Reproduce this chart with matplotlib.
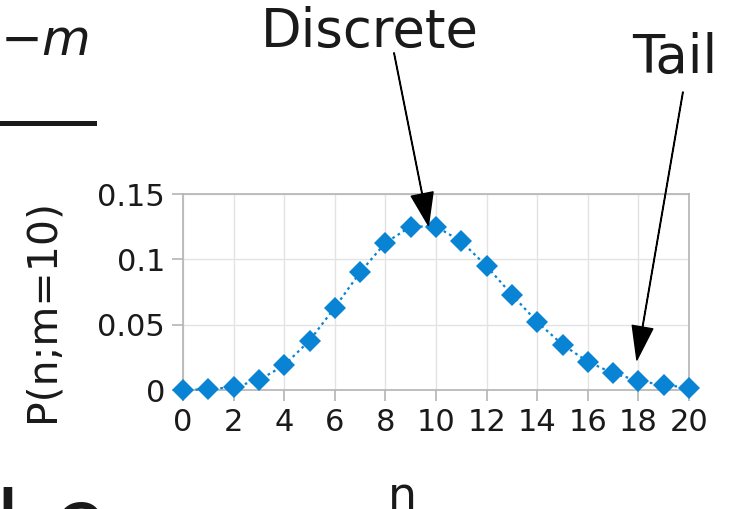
import matplotlib
matplotlib.use('Agg')
import matplotlib.pyplot as plt
from matplotlib.lines import Line2D

# Poisson probabilities, m = 10
n_vals = list(range(0, 21))
p_vals = [0.00005, 0.0005, 0.0023, 0.0076, 0.0189, 0.0378, 0.0631, 0.0901,
          0.1126, 0.1251, 0.1251, 0.1137, 0.0948, 0.0729, 0.0521, 0.0347,
          0.0217, 0.0128, 0.0071, 0.0037, 0.0019]
x_ticks = list(range(0, 21, 2))
y_ticks = [0, 0.05, 0.1, 0.15]
y_tick_labels = ['0', '0.05', '0.1', '0.15']

blue = '#0984d4'
ink = '#1a1a1a'
gray = '#b4b4b4'

fig = plt.figure(figsize=(7.31, 5.09), dpi=100)
W, H = 731, 509
ax = fig.add_axes([183 / W, 1 - 390 / H, 506 / W, 196 / H])

ax.plot(n_vals, p_vals, linestyle=(0, (1.2, 1.6)), linewidth=1.6, color=blue,
        marker='D', markersize=11, markeredgewidth=0, clip_on=False, zorder=3)

ax.set_xlim(0, 20)
ax.set_ylim(0, 0.15)
ax.set_xticks(x_ticks)
ax.set_yticks(y_ticks)
ax.set_yticklabels(y_tick_labels)
ax.grid(True, color='#e3e3e3', linewidth=1.0)
ax.set_axisbelow(True)
for s in ax.spines.values():
    s.set_color(gray)
    s.set_linewidth(1.2)
ax.tick_params(axis='both', direction='out', color=gray, width=1.2,
               length=8, labelsize=22, labelcolor=ink, pad=5)

# annotations
ax.annotate('', xy=(9.7, 0.126), xytext=(8.34, 0.258),
            arrowprops=dict(facecolor='black', edgecolor='black', width=0.4,
                            headwidth=16, headlength=23, shrink=0),
            annotation_clip=False)
ax.text(7.39, 0.2625, 'Discrete', fontsize=38, color=ink,
        ha='center', va='baseline', clip_on=False)
ax.annotate('', xy=(17.94, 0.023), xytext=(19.76, 0.228),
            arrowprops=dict(facecolor='black', edgecolor='black', width=0.4,
                            headwidth=15, headlength=24, shrink=0),
            annotation_clip=False)
ax.text(19.45, 0.2426, 'Tail', fontsize=38, color=ink,
        ha='center', va='baseline', clip_on=False)

# axis labels
fig.text(43 / W, 1 - 311 / H, 'P(n;m=10)', fontsize=29.5, color=ink,
         rotation=90, ha='center', va='center')
fig.text(402 / W, 1 - 510 / H, 'n', fontsize=33, color=ink,
         ha='center', va='baseline')

# pieces of the surrounding formula and caption, cut by the frame
fig.text(89 / W, 1 - 55 / H, r'$-m$', fontsize=36, color=ink,
         ha='right', va='baseline')
fig.add_artist(Line2D([0, 94 / W], [1 - 122.5 / H] * 2, color=ink,
                      linewidth=3.6, transform=fig.transFigure))
fig.text(-6 / W, 1 - 551 / H, 'L', fontsize=63, color=ink,
         ha='left', va='baseline')
fig.text(52 / W, 1 - 551 / H, 'e', fontsize=63, color=ink,
         ha='left', va='baseline')

fig.savefig('out.png', dpi=100)
